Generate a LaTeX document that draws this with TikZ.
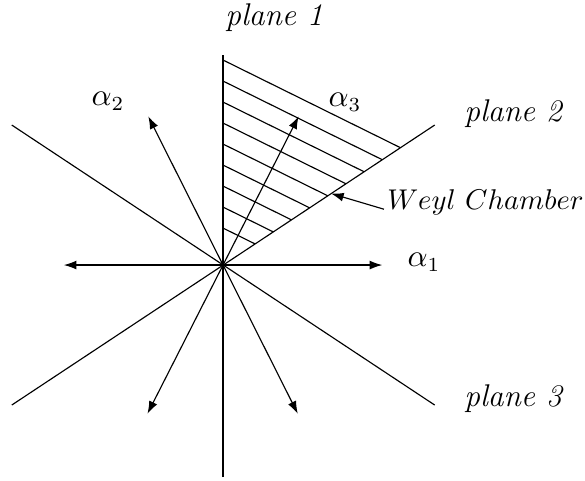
\documentclass[tikz,border=0pt]{standalone}
\usepackage{tikz}
\usetikzlibrary{arrows.meta, calc}

\begin{document}
\begin{tikzpicture}[
    plane/.style={line width=0.4pt},
    hatch/.style={line width=0.4pt},
    root/.style={-{Latex[length=4.4pt, width=3.1pt]}, line width=0.4pt},
    pointer/.style={-{Latex[length=4.4pt, width=3.1pt]}, line width=0.4pt},
    planelabel/.style={font=\fontsize{11}{13}\selectfont\itshape, inner sep=1pt},
    rootlabel/.style={font=\fontsize{10.5}{12.5}\selectfont, inner sep=1pt},
    chamberlabel/.style={font=\fontsize{10.1}{12}\selectfont, inner sep=1pt},
]
\useasboundingbox (-2.745,-2.646) rectangle (4.455,3.262);

% origin and ends of the three planes
\coordinate (O) at (0,0);
\coordinate (p1top) at (0,2.585);
\coordinate (p1bot) at (0,-2.61);
\coordinate (p2top) at (2.605,1.723);
\coordinate (p2bot) at (-2.6,-1.723);
\coordinate (p3top) at (-2.6,1.723);
\coordinate (p3bot) at (2.605,-1.723);

\draw[plane] (p1bot) -- (p1top);
\draw[plane] (p2bot) -- (p2top);
\draw[plane] (p3top) -- (p3bot);

% hatching of the Weyl chamber
\foreach \k in {0,...,8} {
    \pgfmathsetmacro\yy{2.523-0.2585*\k}
    \pgfmathsetmacro\xe{\yy/1.1563}
    \draw[hatch] (0,\yy) -- (\xe,{0.6623*\xe});
}

% roots
\coordinate (r1) at (1.96,0);
\coordinate (r1neg) at (-1.96,0);
\coordinate (r2) at (-0.92,1.83);
\coordinate (r2neg) at (0.92,-1.83);
\coordinate (r3) at (0.93,1.83);
\coordinate (r3neg) at (-0.93,-1.83);

\draw[root] (O) -- (r1);
\draw[root] (O) -- (r1neg);
\draw[root] (O) -- (r2);
\draw[root] (O) -- (r2neg);
\draw[root] (O) -- (r3);
\draw[root] (O) -- (r3neg);

% labels
\node[rootlabel] (alpha1) at (2.474,0.037) {$\alpha_1$};
\node[rootlabel] (alpha2) at (-1.415,2.018) {$\alpha_2$};
\node[rootlabel] (alpha3) at (1.50,2.006) {$\alpha_3$};

\node[planelabel] (plane1) at (0.628,3.04) {plane 1};
\node[planelabel] (plane2) at (3.57,1.86) {plane 2};
\node[planelabel] (plane3) at (3.57,-1.64) {plane 3};

\node[chamberlabel, anchor=west] (weyl) at (1.98,0.775) {$Weyl\ Chamber$};
\coordinate (wtip) at (1.33,0.88);
\draw[pointer] (weyl.base west) -- (wtip);

\end{tikzpicture}
\end{document}
